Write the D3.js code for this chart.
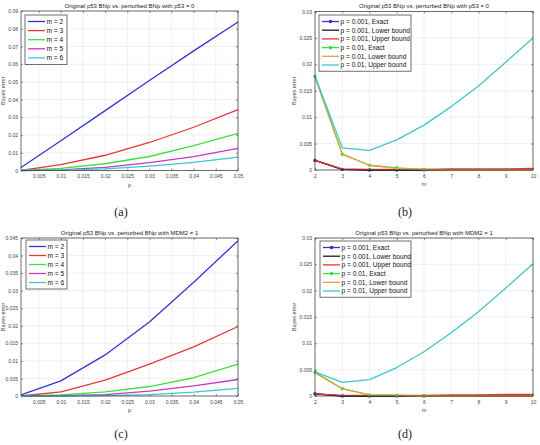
<!DOCTYPE html>
<html>
<head>
<meta charset="utf-8">
<script src="https://cdn.jsdelivr.net/npm/d3@7"></script>
<style>
  body { margin: 0; background: #fff; }
  svg { display: block; }
  .tick-label { font-family: "Liberation Sans", Arial, sans-serif; font-size: 5px; fill: #444; }
  .title { font-family: "Liberation Sans", Arial, sans-serif; font-size: 6px; fill: #222; }
  .axis-label { font-family: "Liberation Sans", Arial, sans-serif; font-size: 5.5px; fill: #444; }
  .legend-text { font-family: "Liberation Sans", Arial, sans-serif; font-size: 6.6px; fill: #111; }
  .caption { font-family: "Liberation Serif", "DejaVu Serif", serif; font-size: 12px; fill: #222; }
</style>
</head>
<body>
<svg id="chart" width="540" height="445"></svg>
<script>
// ---- data ----
const pValues = [0.001, 0.01, 0.02, 0.03, 0.04, 0.05];
const mValues = [2, 3, 4, 5, 6, 7, 8, 9, 10];
const mExactValues = [2, 3, 4, 5, 6];

const mLegend = ['m = 2', 'm = 3', 'm = 4', 'm = 5', 'm = 6'];
const boundLegend = ['p = 0.001, Exact', 'p = 0.001, Lower bound', 'p = 0.001, Upper bound',
                     'p = 0.01, Exact', 'p = 0.01, Lower bound', 'p = 0.01, Upper bound'];

// (a) p53 = 0, error vs p
const p53M2 = [0.0017, 0.0168, 0.0338, 0.0508, 0.0675, 0.0838];
const p53M3 = [0.0001, 0.0033, 0.0086, 0.0158, 0.0244, 0.0344];
const p53M4 = [0.0000, 0.0012, 0.0038, 0.0079, 0.0141, 0.0210];
const p53M5 = [0.0000, 0.0004, 0.0018, 0.0044, 0.0078, 0.0125];
const p53M6 = [0.0000, 0.0002, 0.0009, 0.0025, 0.0046, 0.0076];

// (c) MDM2 = 1, error vs p
const mdmM2 = [0.0003, 0.0043, 0.0117, 0.0211, 0.0324, 0.0442];
const mdmM3 = [0.0000, 0.0012, 0.0045, 0.0091, 0.0140, 0.0198];
const mdmM4 = [0.0000, 0.0003, 0.0012, 0.0027, 0.0052, 0.0091];
const mdmM5 = [0.0000, 0.0001, 0.0004, 0.0014, 0.0029, 0.0047];
const mdmM6 = [0.0000, 0.0000, 0.0001, 0.0004, 0.0011, 0.0022];

// (b) p53 = 0, error vs m
const p53Exact001 = [0.0018, 0.0001, 0.0000, 0.0000, 0.0000];
const p53Lower001 = [0.0018, 0.0001, 0.0000, 0.0000, 0.0000, 0.0000, 0.0000, 0.0000, 0.0000];
const p53Upper001 = [0.0018, 0.0002, 0.0001, 0.0001, 0.0001, 0.0002, 0.0002, 0.0002, 0.0003];
const p53Exact01 = [0.0177, 0.0030, 0.0009, 0.0004, 0.0001];
const p53Lower01 = [0.0176, 0.0030, 0.0009, 0.0003, 0.0001, 0.0000, 0.0000, 0.0000, 0.0000];
const p53Upper01 = [0.0178, 0.0042, 0.0037, 0.0057, 0.0085, 0.0120, 0.0159, 0.0204, 0.0250];

// (d) MDM2 = 1, error vs m
const mdmExact001 = [0.0004, 0.0000, 0.0000, 0.0000, 0.0000];
const mdmLower001 = [0.0004, 0.0000, 0.0000, 0.0000, 0.0000, 0.0000, 0.0000, 0.0000, 0.0000];
const mdmUpper001 = [0.0004, 0.0001, 0.0001, 0.0001, 0.0001, 0.0002, 0.0002, 0.0003, 0.0003];
const mdmExact01 = [0.0045, 0.0014, 0.0002, 0.0001, 0.0000];
const mdmLower01 = [0.0044, 0.0014, 0.0002, 0.0001, 0.0000, 0.0000, 0.0000, 0.0000, 0.0000];
const mdmUpper01 = [0.0046, 0.0026, 0.0031, 0.0054, 0.0084, 0.0120, 0.0160, 0.0205, 0.0251];

const pTicks = [0.005, 0.01, 0.015, 0.02, 0.025, 0.03, 0.035, 0.04, 0.045, 0.05];
const p53YTicks = [0, 0.01, 0.02, 0.03, 0.04, 0.05, 0.06, 0.07, 0.08, 0.09];
const mdmYTicks = [0, 0.005, 0.01, 0.015, 0.02, 0.025, 0.03, 0.035, 0.04, 0.045];
const boundYTicks = [0, 0.005, 0.01, 0.015, 0.02, 0.025, 0.03];

// ---- styles ----
const BLUE = '#3434d6', RED = '#e8343a', GREEN = '#3ee03e', MAGENTA = '#c538c5',
      CYAN = '#3cc8c8', BLACK = '#1a1a1a', ORANGE = '#e8a040';
const mColors = [BLUE, RED, GREEN, MAGENTA, CYAN];

const svg = d3.select('#chart');

function fmt(v) {
    return v === 0 ? '0' : String(+v.toFixed(4));
}

function drawPanel(cfg) {
    const g = svg.append('g');
    const x = d3.scaleLinear().domain(cfg.xDomain).range([cfg.left, cfg.right]);
    const y = d3.scaleLinear().domain(cfg.yDomain).range([cfg.bottom, cfg.top]);

    // grid
    g.selectAll('.gx').data(cfg.xTicks).enter().append('line')
        .attr('x1', d => x(d)).attr('x2', d => x(d))
        .attr('y1', cfg.top).attr('y2', cfg.bottom)
        .attr('stroke', '#e6e6e6').attr('stroke-width', 0.6);
    g.selectAll('.gy').data(cfg.yTicks).enter().append('line')
        .attr('y1', d => y(d)).attr('y2', d => y(d))
        .attr('x1', cfg.left).attr('x2', cfg.right)
        .attr('stroke', '#e6e6e6').attr('stroke-width', 0.6);

    // axes with inward ticks
    const axes = [
        { ax: d3.axisBottom(x).tickValues(cfg.xTicks).tickFormat(cfg.xFmt).tickSize(-2).tickPadding(4), t: `translate(0,${cfg.bottom})` },
        { ax: d3.axisTop(x).tickValues(cfg.xTicks).tickFormat('').tickSize(-2), t: `translate(0,${cfg.top})` },
        { ax: d3.axisLeft(y).tickValues(cfg.yTicks).tickFormat(fmt).tickSize(-2).tickPadding(3), t: `translate(${cfg.left},0)` },
        { ax: d3.axisRight(y).tickValues(cfg.yTicks).tickFormat('').tickSize(-2), t: `translate(${cfg.right},0)` }
    ];
    axes.forEach(a => {
        const ag = g.append('g').attr('transform', a.t).call(a.ax);
        ag.select('.domain').remove();
        ag.selectAll('line').attr('stroke', '#333').attr('stroke-width', 0.5);
        ag.selectAll('text').attr('class', 'tick-label').attr('font-size', null).attr('font-family', null).attr('fill', null);
    });

    // series
    const line = d3.line().x(d => x(d[0])).y(d => y(d[1]));
    cfg.series.forEach(s => {
        const pts = s.xs.map((v, i) => [v, s.ys[i]]);
        g.append('path').datum(pts)
            .attr('d', line)
            .attr('fill', 'none')
            .attr('stroke', s.color)
            .attr('stroke-width', 1.3)
            .attr('stroke-linejoin', 'round');
        if (s.marker) {
            g.selectAll(null).data(pts).enter().append('circle')
                .attr('cx', d => x(d[0])).attr('cy', d => y(d[1]))
                .attr('r', 1.8).attr('fill', s.color);
        }
    });

    // box
    g.append('rect')
        .attr('x', cfg.left).attr('y', cfg.top)
        .attr('width', cfg.right - cfg.left).attr('height', cfg.bottom - cfg.top)
        .attr('fill', 'none').attr('stroke', '#333').attr('stroke-width', 0.7);

    // title and labels
    g.append('text').attr('class', 'title')
        .attr('x', (cfg.left + cfg.right) / 2).attr('y', cfg.top - 3.5)
        .attr('text-anchor', 'middle').text(cfg.title);
    g.append('text').attr('class', 'axis-label')
        .attr('x', (cfg.left + cfg.right) / 2).attr('y', cfg.bottom + 16)
        .attr('text-anchor', 'middle').text(cfg.xLabel);
    const ly = (cfg.top + cfg.bottom) / 2;
    g.append('text').attr('class', 'axis-label')
        .attr('transform', `translate(${cfg.yLabelX},${ly}) rotate(-90)`)
        .attr('text-anchor', 'middle').text('Bayes error');

    // legend
    const lg = cfg.legend;
    const rows = cfg.series.length;
    g.append('rect')
        .attr('x', lg.x).attr('y', lg.y)
        .attr('width', lg.w).attr('height', lg.rowH * rows + 4)
        .attr('fill', '#fff').attr('stroke', '#333').attr('stroke-width', 0.7);
    cfg.series.forEach((s, i) => {
        const ry = lg.y + 6.5 + i * lg.rowH;
        g.append('line')
            .attr('x1', lg.x + 3).attr('x2', lg.x + 20)
            .attr('y1', ry).attr('y2', ry)
            .attr('stroke', s.color).attr('stroke-width', 1.3);
        if (s.marker) {
            g.append('circle').attr('cx', lg.x + 11.5).attr('cy', ry).attr('r', 1.8).attr('fill', s.color);
        }
        g.append('text').attr('class', 'legend-text')
            .attr('x', lg.x + 21.5).attr('y', ry + 2.3).text(s.name);
    });

    // caption
    svg.append('text').attr('class', 'caption')
        .attr('x', cfg.captionX).attr('y', cfg.captionY)
        .attr('text-anchor', 'middle').text(cfg.caption);
}

function mSeries(ys) {
    return ys.map((arr, i) => ({ xs: pValues, ys: arr, color: mColors[i], name: mLegend[i] }));
}

function boundSeries(e1, l1, u1, e2, l2, u2) {
    const list = [
        { xs: mExactValues, ys: e1, color: BLUE, marker: true },
        { xs: mValues, ys: l1, color: BLACK },
        { xs: mValues, ys: u1, color: RED },
        { xs: mExactValues, ys: e2, color: GREEN, marker: true },
        { xs: mValues, ys: l2, color: ORANGE },
        { xs: mValues, ys: u2, color: CYAN }
    ];
    list.forEach((s, i) => s.name = boundLegend[i]);
    return list;
}

drawPanel({
    left: 21, right: 238, top: 11, bottom: 170.5,
    xDomain: [0.001, 0.05], yDomain: [0, 0.09],
    xTicks: pTicks, yTicks: p53YTicks, xFmt: fmt,
    title: 'Original p53 BNp vs. perturbed BNp with p53 = 0',
    xLabel: 'p', yLabelX: 5,
    series: mSeries([p53M2, p53M3, p53M4, p53M5, p53M6]),
    legend: { x: 25, y: 15, w: 42, rowH: 9.1 },
    caption: '(a)', captionX: 121, captionY: 216
});

drawPanel({
    left: 315, right: 533, top: 11.5, bottom: 170,
    xDomain: [2, 10], yDomain: [0, 0.03],
    xTicks: mValues, yTicks: boundYTicks, xFmt: d3.format('d'),
    title: 'Original p53 BNp vs. perturbed BNp with p53 = 0',
    xLabel: 'm', yLabelX: 296,
    series: boundSeries(p53Exact001, p53Lower001, p53Upper001, p53Exact01, p53Lower01, p53Upper01),
    legend: { x: 319, y: 15, w: 92, rowH: 8.7 },
    caption: '(b)', captionX: 405, captionY: 216
});

drawPanel({
    left: 21, right: 238, top: 238, bottom: 396,
    xDomain: [0.001, 0.05], yDomain: [0, 0.045],
    xTicks: pTicks, yTicks: mdmYTicks, xFmt: fmt,
    title: 'Original p53 BNp vs. perturbed BNp with MDM2 = 1',
    xLabel: 'p', yLabelX: 5,
    series: mSeries([mdmM2, mdmM3, mdmM4, mdmM5, mdmM6]),
    legend: { x: 26, y: 240, w: 41, rowH: 9 },
    caption: '(c)', captionX: 121, captionY: 438
});

drawPanel({
    left: 315, right: 533, top: 238, bottom: 396,
    xDomain: [2, 10], yDomain: [0, 0.03],
    xTicks: mValues, yTicks: boundYTicks, xFmt: d3.format('d'),
    title: 'Original p53 BNp vs. perturbed BNp with MDM2 = 1',
    xLabel: 'm', yLabelX: 296,
    series: boundSeries(mdmExact001, mdmLower001, mdmUpper001, mdmExact01, mdmLower01, mdmUpper01),
    legend: { x: 320, y: 241, w: 91, rowH: 8.7 },
    caption: '(d)', captionX: 405, captionY: 438
});
</script>
</body>
</html>
